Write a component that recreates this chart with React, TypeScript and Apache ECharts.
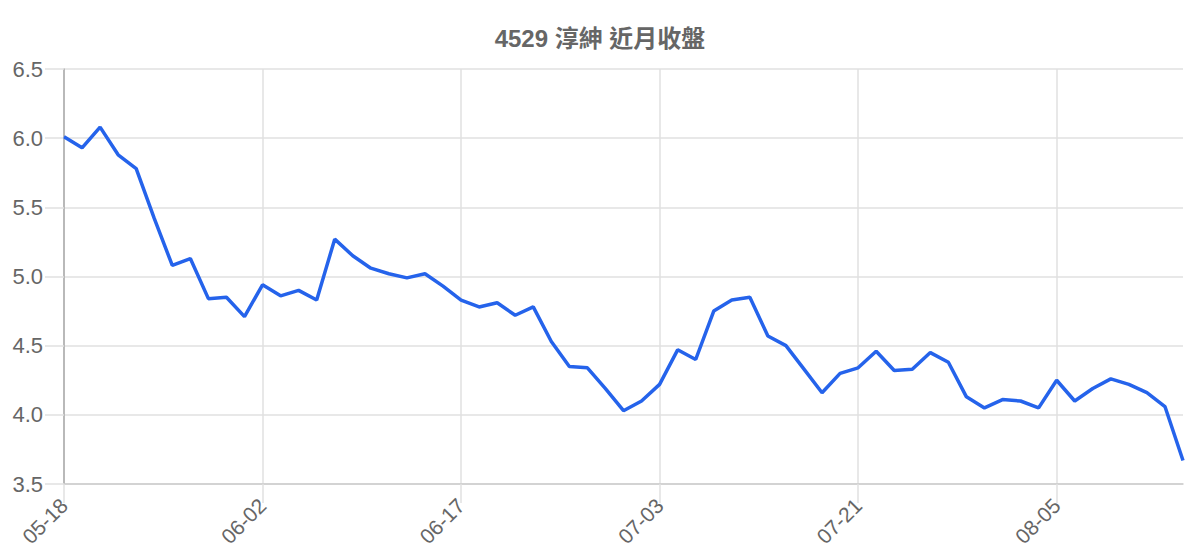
import { useEffect, useRef } from "react";
import * as echarts from "echarts";

const dates = [
  "05-18", "05-19", "05-20", "05-21", "05-22", "05-25", "05-26", "05-27", "05-28", "05-29",
  "06-01", "06-02", "06-03", "06-04", "06-05", "06-08", "06-09", "06-10", "06-11", "06-12",
  "06-15", "06-16", "06-17", "06-18", "06-19", "06-22", "06-23", "06-24", "06-25", "06-29",
  "06-30", "07-01", "07-02", "07-03", "07-06", "07-07", "07-08", "07-09", "07-10", "07-13",
  "07-14", "07-15", "07-16", "07-20", "07-21", "07-22", "07-23", "07-24", "07-27", "07-28",
  "07-29", "07-30", "07-31", "08-03", "08-04", "08-05", "08-06", "08-07", "08-10", "08-11",
  "08-12", "08-13", "08-14"
];

const closes = [
  6.01, 5.93, 6.08, 5.88, 5.78, 5.42, 5.08, 5.13, 4.84, 4.85,
  4.71, 4.94, 4.86, 4.9, 4.83, 5.27, 5.15, 5.06, 5.02, 4.99,
  5.02, 4.93, 4.83, 4.78, 4.81, 4.72, 4.78, 4.53, 4.35, 4.34,
  4.19, 4.03, 4.1, 4.22, 4.47, 4.4, 4.75, 4.83, 4.85, 4.57,
  4.5, 4.33, 4.16, 4.3, 4.34, 4.46, 4.32, 4.33, 4.45, 4.38,
  4.13, 4.05, 4.11, 4.1, 4.05, 4.25, 4.1, 4.19, 4.26, 4.22,
  4.16, 4.06, 3.67
];

const FONT = "'Liberation Sans', 'Noto Sans CJK TC', sans-serif";

export default function App() {
  const chartRef = useRef<HTMLDivElement>(null);

  useEffect(() => {
    document.body.style.margin = "0";
    if (!chartRef.current) return;
    const chart = echarts.init(chartRef.current, null, { renderer: "svg" });

    const option = {
      animation: false,
      title: {
        text: "4529 淳紳 近月收盤",
        left: "center",
        top: 21,
        textStyle: { color: "#666", fontSize: 24, fontWeight: "bold", fontFamily: FONT }
      },
      grid: { left: 64, right: 17, top: 69, bottom: 76 },
      xAxis: {
        type: "category",
        data: dates,
        boundaryGap: false,
        axisLine: { lineStyle: { color: "#cccccc", width: 1.5 } },
        axisTick: { show: true, length: 19, interval: 10, lineStyle: { color: "#e0e0e0", width: 1.5 } },
        splitLine: { show: true, interval: 10, lineStyle: { color: "#e0e0e0", width: 1.5 } },
        axisLabel: {
          interval: 10,
          rotate: 45,
          margin: 18,
          color: "#666",
          fontSize: 21,
          fontFamily: FONT
        }
      },
      yAxis: {
        type: "value",
        min: 3.5,
        max: 6.5,
        interval: 0.5,
        axisLine: { show: true, lineStyle: { color: "#aaa", width: 1.5 } },
        axisTick: { show: true, length: 19, lineStyle: { color: "#e0e0e0", width: 1.5 } },
        splitLine: { show: true, lineStyle: { color: "#e0e0e0", width: 1.5 } },
        axisLabel: {
          margin: 21,
          color: "#666",
          fontSize: 22,
          fontFamily: FONT,
          formatter: (v: number) => v.toFixed(1)
        }
      },
      series: [
        {
          type: "line",
          data: closes,
          showSymbol: false,
          lineStyle: { color: "#2563eb", width: 3.5 },
          itemStyle: { color: "#2563eb" }
        }
      ]
    };

    chart.setOption(option);
    return () => {
      chart.dispose();
    };
  }, []);

  return <div ref={chartRef} style={{ width: "1200px", height: "560px" }} />;
}
